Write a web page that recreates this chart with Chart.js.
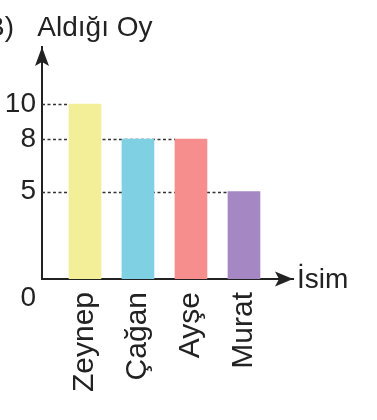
<!DOCTYPE html>
<html><head><meta charset="utf-8">
<script src="https://cdn.jsdelivr.net/npm/chart.js@4"></script>
<style>
html,body{margin:0;padding:0;background:#fff;overflow:hidden;width:377px;height:420px}
#c{position:absolute;left:-14px;top:0}
</style></head>
<body>
<canvas id="c" width="391" height="420"></canvas>
<script>
// ---- data ----
const names = ['Zeynep', 'Çağan', 'Ayşe', 'Murat'];
const votes = [10, 8, 8, 5];
const yTicks = [0, 5, 8, 10];
const colors = ['#f2ef98', '#7fd0e3', '#f58e8d', '#a588c3'];
const titleText = 'B)   Aldığı Oy';
const xAxisName = 'İsim';

const FONT = "'Liberation Sans', Arial, Helvetica, sans-serif";
const INK = '#222';

const refLines = {
  id: 'refLines',
  beforeDatasetsDraw(chart) {
    const { ctx, chartArea, scales: { y } } = chart;
    const bars = chart.getDatasetMeta(0).data;
    ctx.save();
    ctx.strokeStyle = '#333';
    ctx.lineWidth = 1.5;
    ctx.setLineDash([3, 2.5]);
    yTicks.forEach(v => {
      if (v === 0) return;
      let last = -1;
      votes.forEach((d, i) => { if (d === v) last = i; });
      if (last < 0) return;
      const bar = bars[last];
      const yy = Math.round(y.getPixelForValue(v)) + 0.5;
      ctx.beginPath();
      ctx.moveTo(chartArea.left, yy);
      ctx.lineTo(bar.x - bar.width / 2, yy);
      ctx.stroke();
    });
    ctx.restore();
  }
};

const arrows = {
  id: 'arrows',
  afterDraw(chart) {
    const { ctx, chartArea: { left, right, top, bottom } } = chart;
    ctx.save();
    ctx.fillStyle = INK;
    ctx.beginPath();
    ctx.moveTo(left, top);
    ctx.lineTo(left - 7, top + 19);
    ctx.lineTo(left, top + 15);
    ctx.lineTo(left + 7, top + 19);
    ctx.closePath();
    ctx.fill();
    ctx.beginPath();
    ctx.moveTo(right, bottom);
    ctx.lineTo(right - 18, bottom - 7.5);
    ctx.lineTo(right - 14, bottom);
    ctx.lineTo(right - 18, bottom + 7.5);
    ctx.closePath();
    ctx.fill();
    ctx.font = '28px ' + FONT;
    ctx.textBaseline = 'alphabetic';
    ctx.textAlign = 'left';
    ctx.fillText(xAxisName, right + 4, bottom + 9);
    ctx.restore();
  }
};

new Chart(document.getElementById('c'), {
  type: 'bar',
  data: {
    datasets: [{
      data: names.map((n, i) => ({ x: i, y: votes[i] })),
      backgroundColor: colors,
      borderWidth: 0,
      barThickness: 32
    }]
  },
  plugins: [refLines, arrows],
  options: {
    responsive: false,
    animation: false,
    devicePixelRatio: 1,
    layout: { padding: { left: 0, right: 84, top: 0, bottom: 0 } },
    plugins: {
      legend: { display: false },
      tooltip: { enabled: false },
      title: {
        display: true, text: titleText, align: 'start', color: INK,
        font: { family: FONT, size: 28, weight: 'normal', lineHeight: 1.2 },
        padding: { top: 11, bottom: 2.4 }
      }
    },
    scales: {
      x: {
        type: 'linear', bounds: 'data', min: -0.811, max: 3.925, offset: false,
        grid: { display: false, drawTicks: false, offset: false },
        border: { display: true, color: INK, width: 2 },
        afterBuildTicks(s) { s.ticks = names.map((n, i) => ({ value: i })); },
        afterFit(s) { s.height = 141; },
        ticks: {
          autoSkip: false, minRotation: 90, maxRotation: 90, padding: 13, color: INK,
          font: { family: FONT, size: 30 },
          callback: (v) => names[v]
        }
      },
      y: {
        type: 'linear', bounds: 'data', min: 0, max: 13.26,
        grid: { display: false, drawTicks: false },
        border: { display: true, color: INK, width: 2 },
        afterBuildTicks(s) { s.ticks = yTicks.map(v => ({ value: v })); },
        afterFit(s) { s.width = 56; },
        ticks: {
          autoSkip: false, padding: 6, color: INK,
          font: (c) => ({ family: FONT, size: 28, lineHeight: (c.tick && c.tick.value === 0) ? 1.35 : 1.2 }),
          callback: (v) => v === 0 ? ['', '0'] : String(v)
        }
      }
    }
  }
});
</script>
</body></html>
